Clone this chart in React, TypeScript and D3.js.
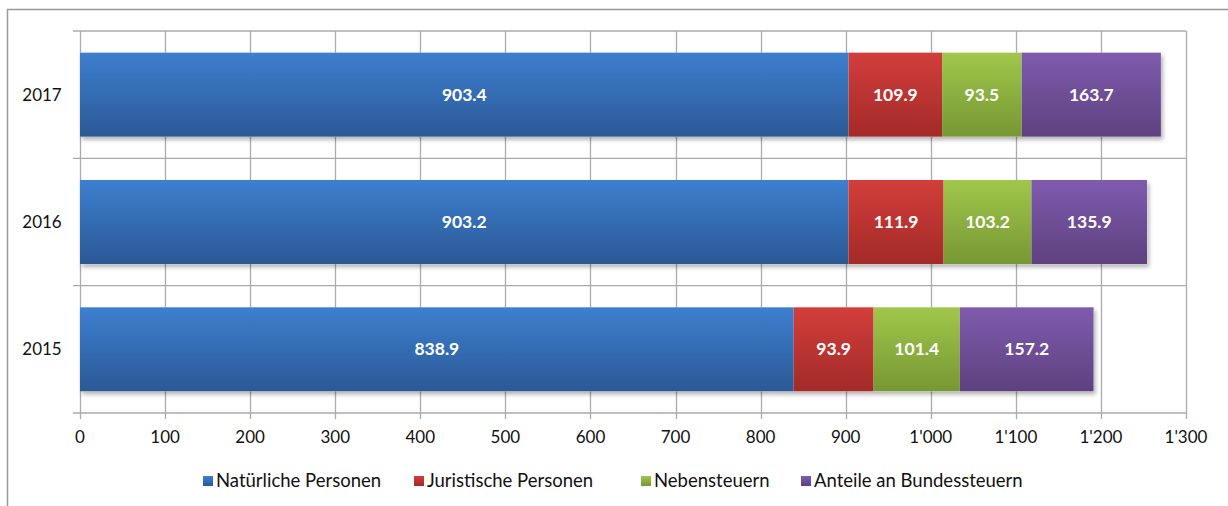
import React, { useEffect, useRef } from "react";
import * as d3 from "d3";

const years = ["2017", "2016", "2015"];
const seriesNames = [
  "Natürliche Personen",
  "Juristische Personen",
  "Nebensteuern",
  "Anteile an Bundessteuern",
];
const natuerliche = [903.4, 903.2, 838.9];
const juristische = [109.9, 111.9, 93.9];
const nebensteuern = [93.5, 103.2, 101.4];
const anteile = [163.7, 135.9, 157.2];
const tickValues = [0, 100, 200, 300, 400, 500, 600, 700, 800, 900, 1000, 1100, 1200, 1300];

// top / bottom gradient colours per series
const colors = [
  ["#3d7fd0", "#2b5995"],
  ["#d23e3b", "#a32a28"],
  ["#a0c74b", "#779733"],
  ["#7f5bae", "#5e417f"],
];

const font = "Lato, 'Open Sans', sans-serif";

const App = () => {
  const ref = useRef<SVGSVGElement>(null);

  useEffect(() => {
    const width = 1228,
      height = 506,
      left = 80,
      right = 1186,
      top = 31,
      bottom = 413;

    const svg = d3.select(ref.current);
    svg.selectAll("*").remove();

    const x = d3.scaleLinear().domain([0, 1300]).range([left, right]);
    const y = d3
      .scaleBand()
      .domain(years)
      .range([top, bottom])
      .paddingInner(0.34)
      .paddingOuter(0.17);

    const fmt = d3.formatLocale({
      decimal: ".",
      thousands: "'",
      grouping: [3],
      currency: ["", ""],
    }).format(",");

    const defs = svg.append("defs");
    colors.forEach((c, i) => {
      const g = defs
        .append("linearGradient")
        .attr("id", "grad" + i)
        .attr("x1", 0)
        .attr("y1", 0)
        .attr("x2", 0)
        .attr("y2", 1);
      g.append("stop").attr("offset", "0%").attr("stop-color", c[0]);
      g.append("stop").attr("offset", "100%").attr("stop-color", c[1]);
    });
    defs
      .append("filter")
      .attr("id", "shadow")
      .attr("x", "-5%")
      .attr("y", "-10%")
      .attr("width", "110%")
      .attr("height", "130%")
      .append("feDropShadow")
      .attr("dx", 2)
      .attr("dy", 3)
      .attr("stdDeviation", 2)
      .attr("flood-color", "#000")
      .attr("flood-opacity", 0.3);

    svg.attr("width", width).attr("height", height);

    // outer chart border
    svg
      .append("rect")
      .attr("x", 7.5)
      .attr("y", 9.5)
      .attr("width", width)
      .attr("height", height)
      .attr("fill", "white")
      .attr("stroke", "#999")
      .attr("stroke-width", 1.5);

    const grid = "#ababab";

    // vertical gridlines + ticks
    svg
      .append("g")
      .selectAll("line")
      .data(tickValues)
      .enter()
      .append("line")
      .attr("x1", d => Math.round(x(d)) + 0.5)
      .attr("x2", d => Math.round(x(d)) + 0.5)
      .attr("y1", top)
      .attr("y2", bottom + 6)
      .attr("stroke", grid)
      .attr("stroke-width", 1.3);

    // horizontal category boundaries
    const step = y.step();
    svg
      .append("g")
      .selectAll("line")
      .data(d3.range(years.length + 1))
      .enter()
      .append("line")
      .attr("x1", left - 7)
      .attr("x2", right)
      .attr("y1", i => top + i * step)
      .attr("y2", i => top + i * step)
      .attr("stroke", grid)
      .attr("stroke-width", 1.3);

    // stacked data
    const rows = years.map((yr, i) => ({
      year: yr,
      s0: natuerliche[i],
      s1: juristische[i],
      s2: nebensteuern[i],
      s3: anteile[i],
    }));
    const stack = d3.stack<any>().keys(["s0", "s1", "s2", "s3"])(rows);

    const bars = svg.append("g");
    // shadow under whole bar
    bars
      .selectAll("rect.shadow")
      .data(rows)
      .enter()
      .append("rect")
      .attr("class", "shadow")
      .attr("x", x(0))
      .attr("y", d => y(d.year)!)
      .attr("width", d => x(d.s0 + d.s1 + d.s2 + d.s3) - x(0))
      .attr("height", y.bandwidth())
      .attr("fill", "#fff")
      .attr("filter", "url(#shadow)");

    stack.forEach((layer, k) => {
      const g = bars.append("g");
      g.selectAll("rect")
        .data(layer)
        .enter()
        .append("rect")
        .attr("x", d => x(d[0]))
        .attr("y", d => y(d.data.year)!)
        .attr("width", d => x(d[1]) - x(d[0]))
        .attr("height", y.bandwidth())
        .attr("fill", `url(#grad${k})`);
      g.selectAll("text")
        .data(layer)
        .enter()
        .append("text")
        .attr("x", d => (x(d[0]) + x(d[1])) / 2)
        .attr("y", d => y(d.data.year)! + y.bandwidth() / 2)
        .attr("dy", "0.35em")
        .attr("text-anchor", "middle")
        .attr("fill", "white")
        .attr("font-family", font)
        .attr("font-weight", "bold")
        .attr("font-size", 17.5)
        .text(d => (d[1] - d[0]).toFixed(1));
    });

    // category labels
    svg
      .append("g")
      .selectAll("text")
      .data(years)
      .enter()
      .append("text")
      .attr("x", 42)
      .attr("y", d => y(d)! + y.bandwidth() / 2)
      .attr("dy", "0.35em")
      .attr("text-anchor", "middle")
      .attr("font-family", font)
      .attr("font-size", 17)
      .attr("fill", "#111")
      .text(d => d);

    // x tick labels
    svg
      .append("g")
      .selectAll("text")
      .data(tickValues)
      .enter()
      .append("text")
      .attr("x", d => x(d))
      .attr("y", 437)
      .attr("dy", "0.35em")
      .attr("text-anchor", "middle")
      .attr("font-family", font)
      .attr("font-size", 17)
      .attr("fill", "#111")
      .text(d => fmt(d));

    // legend
    const legendX = [203, 414, 641, 801];
    const legend = svg
      .append("g")
      .selectAll("g")
      .data(seriesNames)
      .enter()
      .append("g")
      .attr("transform", (d, i) => `translate(${legendX[i]},481)`);
    legend
      .append("rect")
      .attr("x", 0)
      .attr("y", -5)
      .attr("width", 10)
      .attr("height", 10)
      .attr("fill", (d, i) => `url(#grad${i})`);
    legend
      .append("text")
      .attr("x", 13)
      .attr("y", 0)
      .attr("dy", "0.35em")
      .attr("font-family", font)
      .attr("font-size", 18.5)
      .attr("fill", "#111")
      .text(d => d);
  }, []);

  return (
    <svg
      ref={ref}
      style={{ position: "absolute", left: 0, top: 0, display: "block" }}
    />
  );
};

export default App;
